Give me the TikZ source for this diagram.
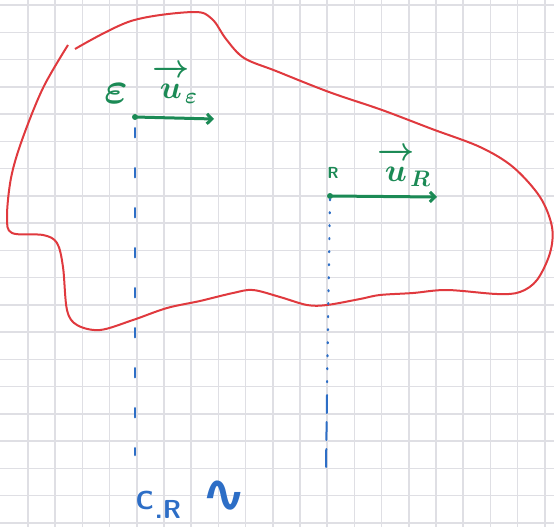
\documentclass[tikz,border=0pt]{standalone}
\usepackage{amsmath,amssymb}
\usepackage{fontspec}
\usetikzlibrary{arrows.meta,calc,positioning}
\newfontfamily\symfont{DejaVu Sans}
\definecolor{gridgray}{HTML}{DFDFE4}
\definecolor{blobred}{HTML}{E0393E}
\definecolor{ptgreen}{HTML}{1B8A55}
\definecolor{penblue}{HTML}{2D6EC6}

\begin{document}
\begin{tikzpicture}[x=1pt,y=-1pt,>=Latex,
    pt/.style={circle,fill=ptgreen,inner sep=0pt,minimum size=6pt},
    lab/.style={text=ptgreen,inner sep=0pt,font=\fontsize{24}{24}\selectfont},
    vec/.style={ptgreen,line width=3pt,line cap=round,-{Straight Barb[length=5pt,width=10pt]}},
    trace/.style={penblue,line cap=round}]
  \useasboundingbox (0,0) rectangle (554,527);
  \fill[white] (0,0) rectangle (554,527);
  % squared paper
  \begin{scope}
    \clip (0,0) rectangle (554,527);
    \foreach \i in {0,...,19} {
      \draw[gridgray,line width=1.5pt] ({28+27.2*\i},0)--({28+27.2*\i},527);
      \draw[gridgray,line width=1.5pt] (0,{5+27.26*\i})--(554,{5+27.26*\i});
    }
  \end{scope}

  % the solid
  \draw[blobred,line width=2pt,line join=round] plot[smooth,tension=0.55] coordinates {
    (75,49) (131,21) (193,12) (212,19) (226,39) (244,58) (276,71) (329,92)
    (382,110) (432,129) (480,147) (513,167) (540,197) (552,227) (550,253)
    (537,280) (520,292) (497,294) (447,290) (413,293) (380,295) (360,299)
    (327,305) (307,305) (280,297) (253,290) (233,293) (200,301) (167,308)
    (133,320) (100,330) (77,325) (67,310) (63,267) (57,243) (43,235)
    (12,233) (7,217) (11,178) (22,140) (43,88) (68,45)};

  % points and velocities
  \node[pt] (E) at (135,117) {};
  \node[pt] (R) at (330,196) {};
  \coordinate (Etip) at (214,119);
  \coordinate (Rtip) at (437,197);
  \draw[vec] (E.center) -- (Etip);
  \draw[vec] (R.center) -- (Rtip);
  \node[lab] (Elab) at (116,94) {\scalebox{1.8}{$\boldsymbol{\varepsilon}$}};
  \node[lab] (uE) at (175,84) {\scalebox{1.3}{$\boldsymbol{\overrightarrow{\vphantom{t}u}_{\!\varepsilon}}$}};
  \node[lab,font=\sffamily\bfseries\fontsize{16}{16}\selectfont] (Rlab) at (333,173) {R};
  \node[lab] (uR) at (404,167) {\scalebox{1.3}{$\boldsymbol{\overrightarrow{\vphantom{t}u}_{\!R}}$}};

  % traces of the trajectories
  \coordinate (Ebot) at (135,455);
  \coordinate (Rmid) at (327,388);
  \coordinate (Rtop2) at (327,395);
  \coordinate (Rbot) at (326,468);
  \draw[trace,line width=2.6pt,dash pattern=on 9pt off 31pt] ($(E.south)+(0,8)$) -- (Ebot);
  \draw[trace,line width=2.2pt,dash pattern=on 1pt off 12pt] (R.south) -- (Rmid);
  \draw[trace,line width=2pt,dash pattern=on 18pt off 9pt] (Rtop2) -- (Rbot);

  % instantaneous centre
  \node[text=penblue,font=\sffamily\bfseries\fontsize{26}{26}\selectfont,anchor=west] (cr) at (132,505)
    {C\kern1pt\raisebox{-9pt}{.R}};
  \node[text=penblue,font=\symfont\bfseries\fontsize{54}{54}\selectfont] (infty) at (224,497) {∿};
\end{tikzpicture}
\end{document}
